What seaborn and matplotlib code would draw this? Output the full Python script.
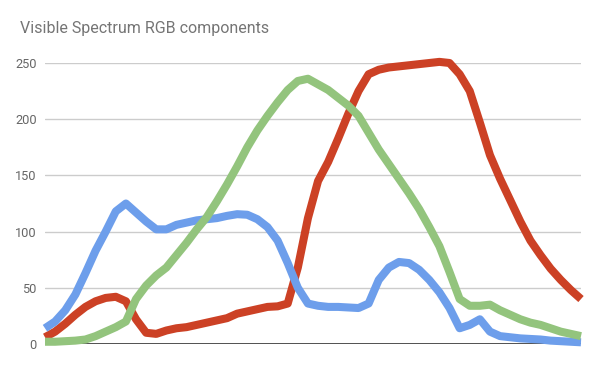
import matplotlib
matplotlib.use("Agg")
import matplotlib.pyplot as plt
import seaborn as sns
import pandas as pd
import numpy as np

# sample index along the visible spectrum (blue end -> red end)
sample = list(range(54))

red = [6, 11, 18, 26, 33, 38, 41, 42, 38, 22,
       10, 9, 12, 14, 15, 17, 19, 21, 23, 27,
       29, 31, 33, 33.5, 36, 68, 112, 145, 162, 183,
       205, 225, 240, 244, 246, 247, 248, 249, 250, 251,
       250, 240, 225, 197, 168, 147, 128, 109, 92, 79,
       67, 57, 48, 40]

green = [2, 2, 2.5, 3, 4, 7, 11, 15, 20, 40,
         52, 61, 68, 79, 90, 102, 113, 127, 142, 158,
         175, 190, 203, 215, 226, 234, 236, 231, 226, 219,
         212, 203, 188, 173, 160, 147, 134, 120, 104, 87,
         64, 40, 34, 34, 35, 30, 26, 22, 19, 17,
         14, 11, 9, 7]

blue = [14, 20, 30, 44, 63, 83, 100, 118, 125, 117,
        109, 102, 102, 106, 108, 110, 111, 112, 114, 115.5,
        115, 111, 104, 92, 72, 50, 36, 34, 33, 33,
        32.5, 32, 36, 57, 68, 73, 72, 66, 57, 46,
        32, 14, 17, 22, 11, 7, 6, 5, 4.5, 4,
        3, 2.5, 2, 1.5]

yticks = [0, 50, 100, 150, 200, 250]

df = pd.DataFrame({
    "sample": sample * 3,
    "value": red + blue + green,
    "channel": ["R"] * len(red) + ["B"] * len(blue) + ["G"] * len(green),
})

sns.set_theme(style="white")
plt.rcParams["font.family"] = ["Roboto", "DejaVu Sans"]

fig = plt.figure(figsize=(6, 3.71), dpi=100)
ax = fig.add_axes([45 / 600, 1 - 344 / 371, (581 - 45) / 600, (344 - 63) / 371])

palette = {"R": "#cc4125", "B": "#6d9eeb", "G": "#93c47d"}
sns.lineplot(data=df, x="sample", y="value", hue="channel",
             hue_order=["R", "B", "G"], palette=palette,
             linewidth=5.8, legend=False, ax=ax, estimator=None,
             sort=True)
for ln in ax.lines:
    ln.set_clip_on(False)
    ln.set_solid_joinstyle("round")
    ln.set_solid_capstyle("butt")

ax.set_xlim(0, 53)
ax.set_ylim(0, 250)
ax.set_yticks(yticks)
ax.set_yticklabels([str(t) for t in yticks])
ax.set_xticks([])
ax.set_xlabel("")
ax.set_ylabel("")
for t in yticks[1:]:
    ax.axhline(t, color="#cccccc", linewidth=1, zorder=0)
ax.axhline(0, color="#333333", linewidth=1.2, zorder=1)
for s in ax.spines.values():
    s.set_visible(False)
ax.tick_params(axis="y", length=0, pad=6, labelsize=9.2, labelcolor="#666666")

fig.text(20 / 600, 1 - 28 / 371, "Visible Spectrum RGB components",
         fontsize=11.5, color="#757575", va="center", ha="left")

fig.savefig("out.png", dpi=100)
